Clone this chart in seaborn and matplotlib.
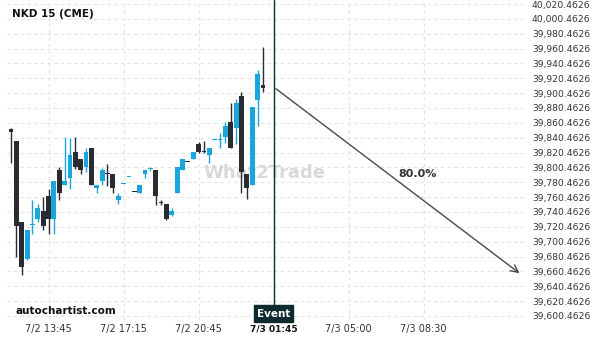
import matplotlib
matplotlib.use("Agg")
import matplotlib.pyplot as plt
import seaborn as sns
import numpy as np
import pandas as pd
from matplotlib.transforms import blended_transform_factory

# ---------------- data ----------------
title = "NKD 15 (CME)"
source = "autochartist.com"
watermark = "What2Trade"

opens = [39852.2, 39836.0, 39727.0, 39677.2, 39722.5, 39731.0, 39741.8, 39762.0,
         39731.0, 39797.0, 39776.8, 39786.2, 39821.2, 39811.8, 39801.0, 39826.6,
         39772.7, 39782.2, 39791.6, 39791.6, 39756.6, 39778.1, 39787.6, 39767.4,
         39766.0, 39791.6, 39798.3, 39797.0, 39752.5, 39751.2, 39736.4, 39766.0,
         39797.0, 39807.7, 39811.8, 39832.0, 39821.2, 39817.2, 39837.4, 39837.4,
         39841.4, 39861.6, 39853.5, 39896.6, 39791.6, 39776.8, 39891.2, 39911.4]
highs = [39853.5, 39836.0, 39727.0, 39716.2, 39756.6, 39751.2, 39760.6, 39771.4,
         39782.2, 39801.0, 39841.4, 39840.1, 39841.4, 39811.8, 39826.6, 39826.6,
         39776.8, 39799.7, 39805.1, 39791.6, 39766.0, 39778.1, 39787.6, 39767.4,
         39776.8, 39797.0, 39801.0, 39797.0, 39756.6, 39751.2, 39745.8, 39801.0,
         39811.8, 39807.7, 39821.2, 39834.7, 39836.0, 39826.6, 39837.4, 39846.8,
         39861.6, 39887.2, 39892.6, 39902.0, 39791.6, 39881.8, 39931.6, 39962.6]
lows = [39806.4, 39679.8, 39655.7, 39675.8, 39710.8, 39727.0, 39716.2, 39710.8,
        39710.8, 39756.6, 39776.8, 39771.4, 39798.3, 39791.6, 39794.3, 39776.8,
        39766.0, 39776.8, 39775.4, 39766.0, 39751.2, 39778.1, 39787.6, 39767.4,
        39766.0, 39786.2, 39795.6, 39749.9, 39749.9, 39729.7, 39735.0, 39766.0,
        39797.0, 39807.7, 39811.8, 39819.9, 39819.9, 39806.4, 39837.4, 39826.6,
        39833.3, 39826.6, 39832.0, 39766.0, 39757.9, 39776.8, 39856.2, 39902.0]
closes = [39848.1, 39721.6, 39666.4, 39716.2, 39723.3, 39745.8, 39721.6, 39731.0,
          39782.2, 39766.0, 39782.2, 39817.2, 39801.0, 39797.0, 39821.2, 39776.8,
          39776.8, 39797.0, 39791.0, 39772.7, 39762.0, 39778.8, 39788.3, 39766.8,
          39776.8, 39797.0, 39798.9, 39762.0, 39751.9, 39731.0, 39741.8, 39801.0,
          39811.8, 39807.1, 39821.2, 39821.2, 39820.6, 39826.6, 39838.0, 39838.0,
          39856.2, 39826.6, 39887.2, 39794.3, 39772.7, 39881.8, 39926.2, 39907.4]
is_up = [False, False, False, True, True, True, False, False,
         True, False, True, True, False, False, True, False,
         True, True, False, False, True, True, True, False,
         True, True, True, False, False, False, True, True,
         True, False, True, False, False, True, True, True,
         True, False, True, False, False, True, True, False]

tick_labels = ["7/2 13:45", "7/2 17:15", "7/2 20:45", "7/3 01:45", "7/3 05:00", "7/3 08:30"]
event_label = "Event"
event_price = 39908.7
target_price = 39655.7
probability = "80.0%"
y_tick_values = np.arange(39600.4626, 40021.0, 20.0)

# ---------------- style ----------------
sns.set_theme(style="white")
plt.rcParams["font.family"] = ["DejaVu Sans"]

BLUE = "#1ba5dd"
DARK = "#2b2b34"
EVENT = "#0d2a30"
GRID = "#e3e3e3"
TXT = "#333333"

fig = plt.figure(figsize=(6, 3.4), dpi=100)
ax = fig.add_axes([7 / 600, 20 / 340, 518 / 600, 320 / 340])

df = pd.DataFrame({"open": opens, "high": highs, "low": lows, "close": closes, "up": is_up})
df["idx"] = np.arange(len(df))
df["color"] = np.where(df["up"], BLUE, DARK)
df["bottom"] = df[["open", "close"]].min(axis=1)
df["height"] = (df["close"] - df["open"]).abs().clip(lower=1.6)

n = len(df)
event_idx = n + 1
tick_pos = [event_idx + 14 * k for k in range(-3, 3)]

# grid
for yv in y_tick_values:
    ax.axhline(yv, color=GRID, lw=0.8, ls=(0, (3, 3)), zorder=0)
for xp in tick_pos:
    if xp != event_idx:
        ax.axvline(xp, color=GRID, lw=0.8, ls=(0, (3, 3)), zorder=0)

# candles
ax.vlines(df["idx"], df["low"], df["high"], colors=df["color"], lw=1.0, zorder=2)
ax.bar(df["idx"], df["height"], bottom=df["bottom"], width=0.9,
       color=df["color"], linewidth=0, zorder=3)

ax.set_xlim(-0.75, 95.9)
ax.set_ylim(39595.06, 40025.85)

# watermark
ax.text(47.2, 39793, watermark, fontsize=13, fontweight="bold", color="#c9c9c9",
        alpha=0.7, ha="center", va="center", zorder=1)

# event line and label
ax.axvline(event_idx, ymin=0.04, ymax=1, color=EVENT, lw=1.0, zorder=4)
trans = blended_transform_factory(ax.transData, ax.transAxes)
ax.text(event_idx, 0.02, event_label, transform=trans, ha="center", va="center",
        fontsize=7.5, fontweight="bold", color="white", zorder=6,
        bbox=dict(boxstyle="square,pad=0.3", facecolor=EVENT, edgecolor=EVENT))

# forecast arrow
ax.annotate("", xy=(95.3, target_price), xytext=(event_idx, event_price),
            arrowprops=dict(arrowstyle="->,head_length=0.45,head_width=0.22",
                            color="#4a4a4a", lw=1.0), zorder=5)
ax.text(75.9, 39791.6, probability, fontsize=8, fontweight="bold", color=TXT,
        ha="center", va="center")

# titles
ax.text(5 / 518, 1 - 14 / 320, title, transform=ax.transAxes, fontsize=7.5,
        fontweight="bold", color="#111111", ha="left", va="center")
ax.text(9 / 518, 9 / 320, source, transform=ax.transAxes, fontsize=7.5,
        fontweight="bold", color="#111111", ha="left", va="center")

# axes
ax.yaxis.tick_right()
ax.set_yticks(y_tick_values)
ax.set_yticklabels([f"{v:,.4f}" for v in y_tick_values], fontsize=6.6, color=TXT)
ax.set_xticks(tick_pos)
ax.set_xticklabels(tick_labels, fontsize=7, color=TXT)
ax.tick_params(axis="both", length=0)
ax.tick_params(axis="y", pad=5)
ax.tick_params(axis="x", pad=3)
for lbl in ax.get_xticklabels():
    if lbl.get_text() == tick_labels[3]:
        lbl.set_fontweight("bold")
        lbl.set_fontsize(6.5)
        lbl.set_color("#111111")
for s in ax.spines.values():
    s.set_visible(False)
ax.grid(False)

fig.savefig("out.png", dpi=100, facecolor="white")
